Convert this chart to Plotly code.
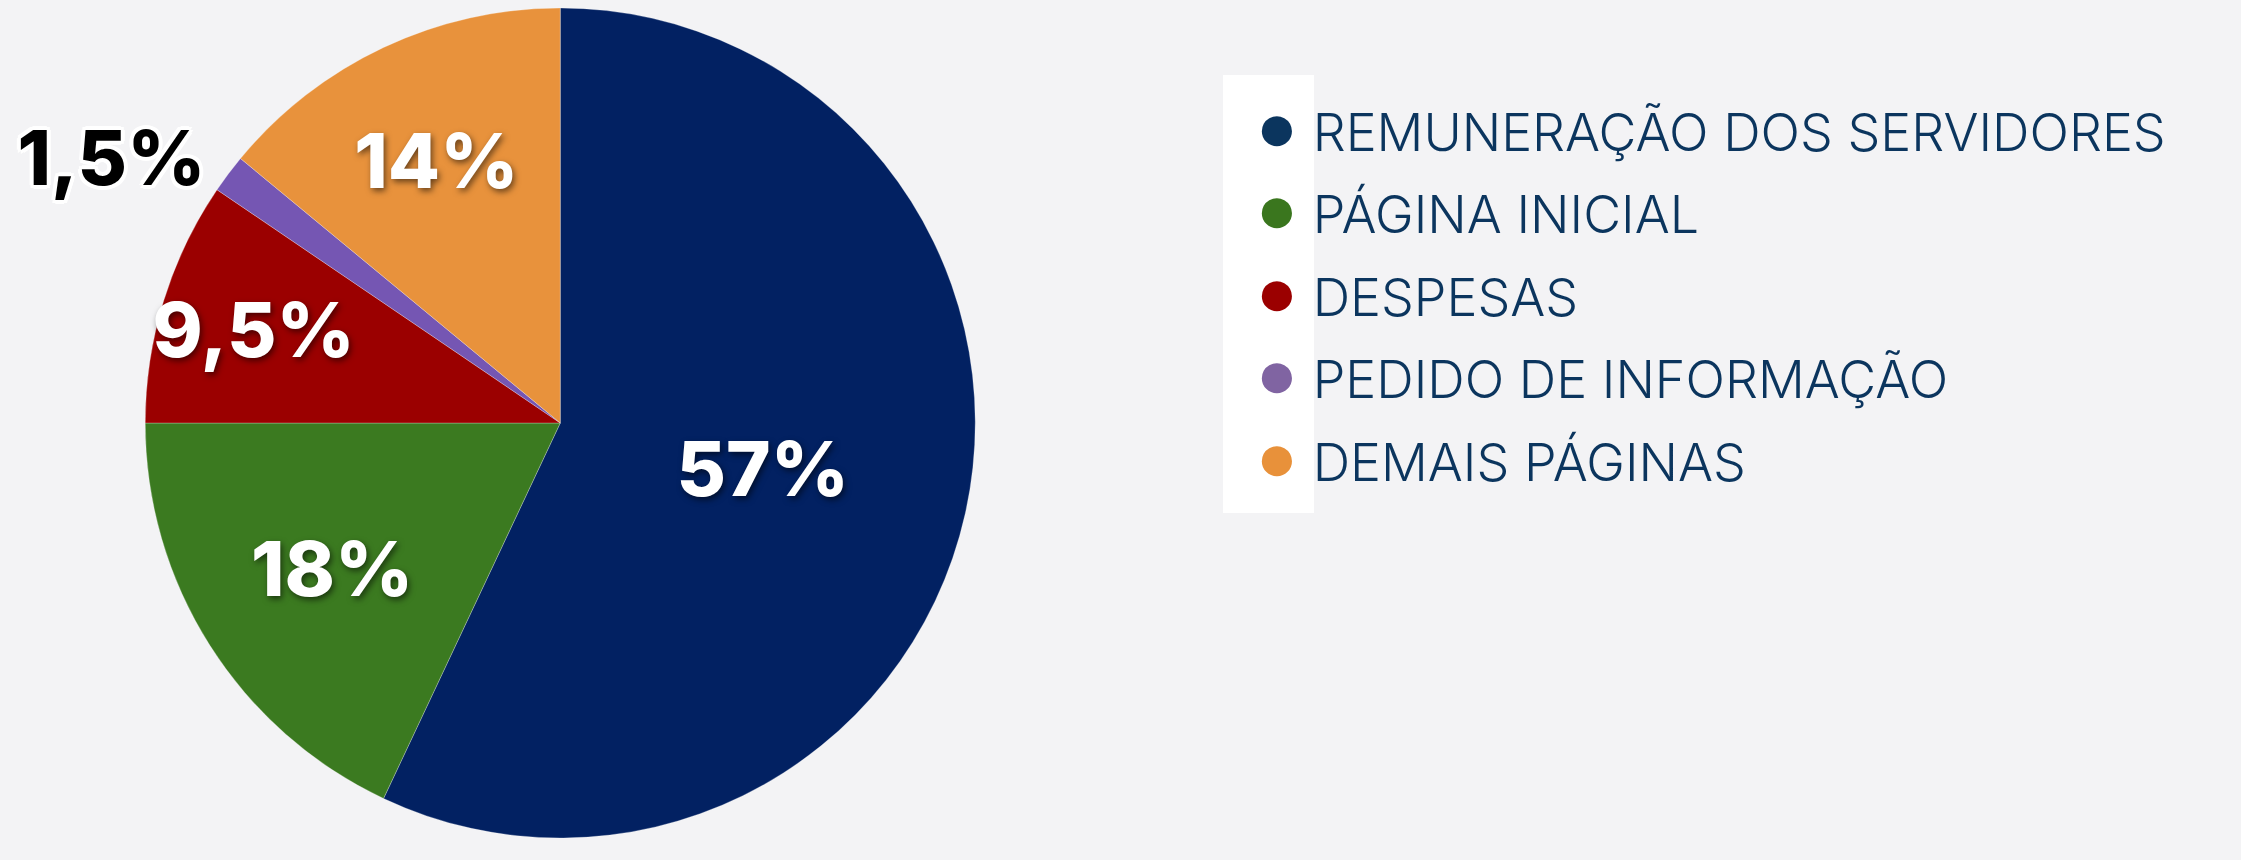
import plotly.graph_objects as go

# ---- data ----
categories = ["REMUNERAÇÃO DOS SERVIDORES", "PÁGINA INICIAL", "DESPESAS",
              "PEDIDO DE INFORMAÇÃO", "DEMAIS PÁGINAS"]
values = [57, 18, 9.5, 1.5, 14]
slice_colors = ["#022162", "#3b7a20", "#9b0000", "#7556b3", "#e8923c"]
legend_colors = ["#0b355e", "#3a761e", "#9b0000", "#8064a2", "#e8913a"]
text_positions = ["inside", "inside", "inside", "outside", "inside"]

labels_txt = [(f"{v:g}".replace(".", ",") + "%") for v in values]

W, H = 2241, 860
MT, MB = 8, 22
PH = H - MT - MB
LABEL_FONT = "Inter, 'Open Sans', sans-serif"

fig = go.Figure()

fig.add_trace(go.Pie(
    labels=categories,
    values=values,
    text=labels_txt,
    textinfo="text",
    textposition=text_positions,
    insidetextorientation="horizontal",
    sort=False,
    direction="clockwise",
    rotation=0,
    marker=dict(colors=slice_colors, line=dict(color="rgba(255,255,255,0.25)", width=1)),
    insidetextfont=dict(family=LABEL_FONT, size=76, color="white",
                        weight=800, shadow="2px 3px 6px rgba(0,0,0,0.55)"),
    outsidetextfont=dict(family=LABEL_FONT, size=76, color="black",
                         weight=800,
                         shadow="4px 0 0 #fff, -4px 0 0 #fff, 0 4px 0 #fff, 0 -4px 0 #fff, "
                                "3px 3px 0 #fff, -3px -3px 0 #fff, 3px -3px 0 #fff, -3px 3px 0 #fff"),
    domain=dict(x=[0.0, 0.5], y=[0.0, 1.0]),
    showlegend=False,
    hoverinfo="label+percent",
))

# legend entries (circle glyph + category name)
for cat, col in zip(categories, legend_colors):
    fig.add_trace(go.Scatter(
        x=[None], y=[None], mode="markers",
        marker=dict(color="rgba(0,0,0,0)", size=1),
        name=f'<span style="color:{col};font-family:\'DejaVu Sans\';font-size:70px">●</span> {cat}',
        legendgroup=cat,
        showlegend=True,
    ))

fig.update_layout(
    width=W, height=H,
    margin=dict(l=0, r=0, t=MT, b=MB, autoexpand=False),
    paper_bgcolor="#f3f3f5",
    plot_bgcolor="rgba(0,0,0,0)",
    xaxis=dict(visible=False),
    yaxis=dict(visible=False),
    uniformtext=dict(minsize=76, mode="show"),
    legend=dict(
        x=0.5425, y=(H - MB - 90) / PH, xanchor="left", yanchor="top",
        font=dict(family=LABEL_FONT, size=52, color="#0b355e", weight=300),
        bgcolor="rgba(0,0,0,0)",
        tracegroupgap=12,
        itemclick=False, itemdoubleclick=False,
    ),
    shapes=[dict(type="rect", xref="paper", yref="paper",
                 x0=1223 / W, x1=1314 / W, y0=(H - MB - 513) / PH, y1=(H - MB - 75) / PH,
                 fillcolor="white", line=dict(width=0), layer="below")],
)

fig.write_html("out.html", config={"displayModeBar": False},
               post_script="document.body.style.margin='0px';document.body.style.overflow='hidden';")
